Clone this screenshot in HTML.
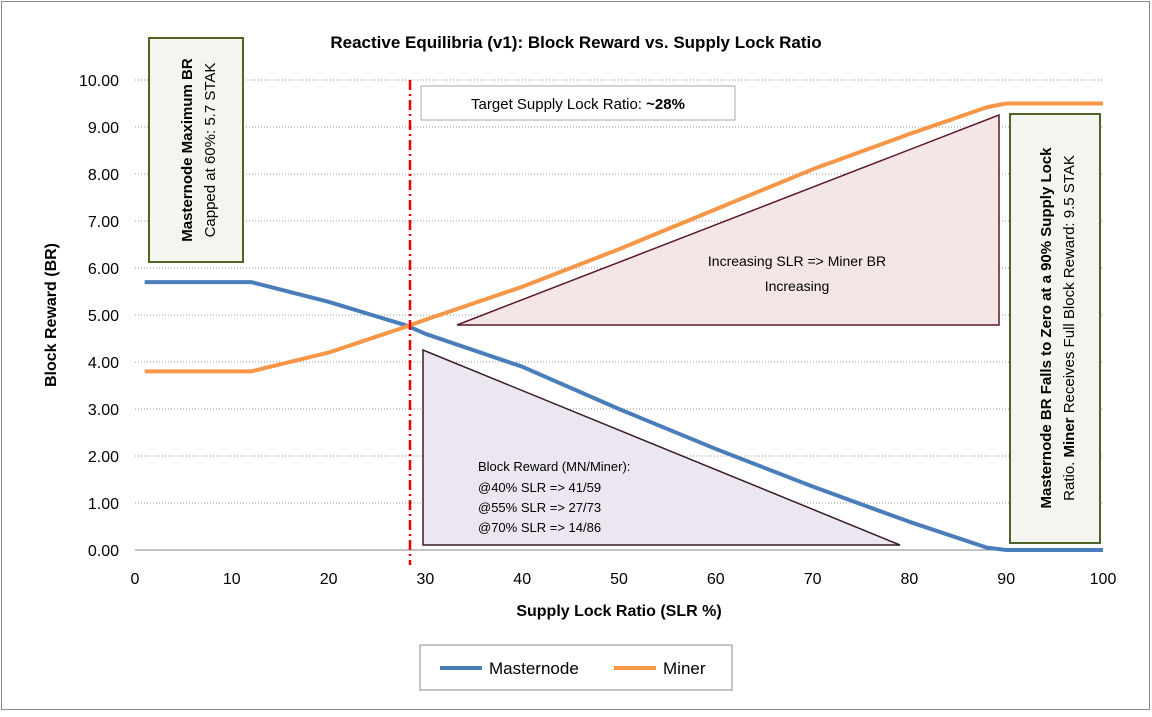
<!DOCTYPE html>
<html><head><meta charset="utf-8"><style>
body{margin:0;background:#fff;font-family:"Liberation Sans",sans-serif}
svg text{font-family:"Liberation Sans",sans-serif}
</style></head><body>
<svg width="1152" height="712" xmlns="http://www.w3.org/2000/svg">
<rect x="1.5" y="1.5" width="1148" height="708" fill="#fff" stroke="#888"/>
<text x="576" y="48" text-anchor="middle" font-size="17" font-weight="bold">Reactive Equilibria (v1): Block Reward vs. Supply Lock Ratio</text>
<g id="grid"></g>
<g id="axes"></g>
<polygon points="457,325 999,115 999,325" fill="#f5e6e6" stroke="#5c1a2a" stroke-width="1.5"/>
<polygon points="423,350 423,545 900,545" fill="#ebe6f0" stroke="#3a1a2a" stroke-width="1.5"/>
<text x="797" y="266" text-anchor="middle" font-size="14">Increasing SLR =&gt; Miner BR</text>
<text x="797" y="291" text-anchor="middle" font-size="14">Increasing</text>
<g font-size="13">
<text x="478" y="471">Block Reward (MN/Miner):</text>
<text x="478" y="492">@40% SLR =&gt; 41/59</text>
<text x="478" y="512">@55% SLR =&gt; 27/73</text>
<text x="478" y="532">@70% SLR =&gt; 14/86</text>
</g>
<g id="series"></g>
<line x1="410" y1="80" x2="410" y2="565" stroke="#e00" stroke-width="2.5" stroke-dasharray="10,4,2,4"/>
<rect x="421" y="86" width="314" height="34" fill="#fff" stroke="#aaa"/>
<text x="578" y="109" text-anchor="middle" font-size="15">Target Supply Lock Ratio: <tspan font-weight="bold">~28%</tspan></text>
<rect x="149" y="38" width="94" height="224" fill="#f3f5ee" stroke="#4f6228" stroke-width="2"/>
<text transform="translate(192,150) rotate(-90)" text-anchor="middle" font-size="15" font-weight="bold">Masternode Maximum  BR</text>
<text transform="translate(215,150) rotate(-90)" text-anchor="middle" font-size="15">Capped at  60%: 5.7 STAK</text>
<rect x="1010" y="114" width="90" height="429" fill="#f3f5ee" stroke="#4f6228" stroke-width="2"/>
<text transform="translate(1051,328) rotate(-90)" text-anchor="middle" font-size="15" font-weight="bold">Masternode BR Falls to Zero at a 90% Supply Lock</text>
<text transform="translate(1074,328) rotate(-90)" text-anchor="middle" font-size="15">Ratio.  <tspan font-weight="bold">Miner</tspan> Receives Full Block Reward: 9.5 STAK</text>
<text transform="translate(56,315) rotate(-90)" text-anchor="middle" font-size="16" font-weight="bold">Block Reward (BR)</text>
<text x="619" y="616" text-anchor="middle" font-size="16" font-weight="bold">Supply Lock Ratio (SLR %)</text>
<rect x="420" y="645" width="312" height="45" fill="#fff" stroke="#888"/>
<line x1="440" y1="668" x2="482" y2="668" stroke="#4a7ebb" stroke-width="4"/>
<text x="489" y="674" font-size="17">Masternode</text>
<line x1="614" y1="668" x2="656" y2="668" stroke="#f79646" stroke-width="4"/>
<text x="663" y="674" font-size="17">Miner</text>
</svg>
<script>
const xs=[1,10,12,20,28,30,40,50,60,70,80,88,90,100];
const masternode=[5.7,5.7,5.7,5.28,4.78,4.6,3.9,3.0,2.15,1.35,0.6,0.05,0,0];
const miner=[3.8,3.8,3.8,4.2,4.75,4.9,5.6,6.4,7.25,8.1,8.85,9.42,9.5,9.5];
const yTicks=[0,1,2,3,4,5,6,7,8,9,10];
const xTicks=[0,10,20,30,40,50,60,70,80,90,100];
const NS='http://www.w3.org/2000/svg';
const X=v=>135+v*9.68, Y=v=>550-v*47;
function mk(t,a,p){const e=document.createElementNS(NS,t);for(const k in a)e.setAttribute(k,a[k]);p.appendChild(e);return e;}
const g=document.getElementById('grid'),ax=document.getElementById('axes'),s=document.getElementById('series');
yTicks.forEach(v=>{
 if(v>0){const l=mk('line',{x1:135,x2:1103,y1:Y(v),y2:Y(v),stroke:'#999','stroke-dasharray':'1,2'},g);
 
 }
 const t=mk('text',{x:119,y:Y(v)+6,'text-anchor':'end','font-size':16},ax);t.textContent=v.toFixed(2);
 
 
});
xTicks.forEach(v=>{
 const t=mk('text',{x:X(v),y:584,'text-anchor':'middle','font-size':16},ax);t.textContent=v;
 
 
});
const base=mk('line',{x1:135,x2:1103,y1:550,y2:550,stroke:'#888'},ax);


function path(arr,c,n){const p=mk('path',{d:arr.map((v,i)=>(i?'L':'M')+X(xs[i])+','+Y(v)).join(''),fill:'none',stroke:c,'stroke-width':4,'stroke-linejoin':'round'},s);
 
 }
path(masternode,'#4a7ebb','masternode-line');
path(miner,'#f79646','miner-line');
</script>
</body></html>
